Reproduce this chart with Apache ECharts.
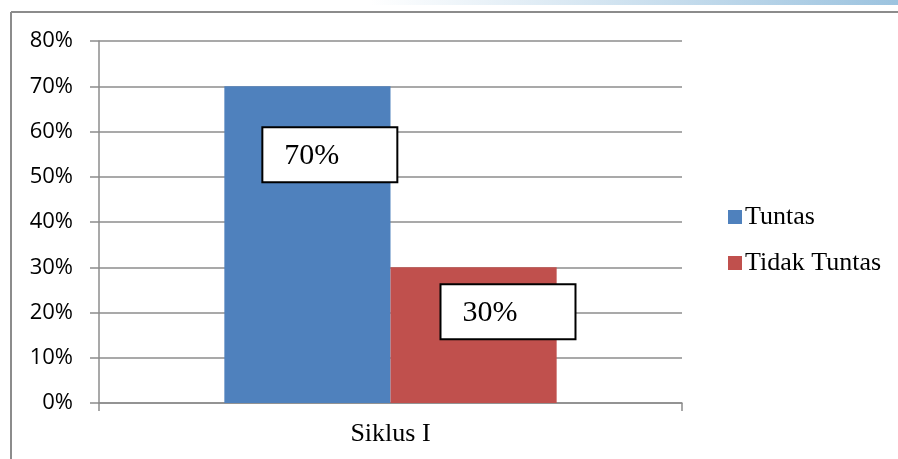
<!DOCTYPE html>
<html><head><meta charset="utf-8">
<script src="https://cdn.jsdelivr.net/npm/echarts@6/dist/echarts.min.js"></script>
<style>html,body{margin:0;padding:0;background:#fff}#c{width:898px;height:459px}</style>
</head><body><div id="c"></div>
<script>
const categories = ['Siklus I'];
const seriesNames = ['Tuntas', 'Tidak Tuntas'];
const tuntas = [70];
const tidakTuntas = [30];
const yMax = 80;
const yInterval = 10;

const chart = echarts.init(document.getElementById('c'), null, {renderer: 'canvas'});
const serif = '"Liberation Serif", "Times New Roman", serif';
const boxLabel = (pos) => ({
  show: true,
  position: pos,
  align: 'left',
  verticalAlign: 'top',
  formatter: '{c}%',
  fontFamily: serif,
  fontSize: 30,
  lineHeight: 30,
  color: '#000',
  backgroundColor: '#fff',
  borderColor: '#000',
  borderWidth: 2,
  padding: [13, 57, 10, 21]
});
chart.setOption({
  animation: false,
  graphic: [
    {type: 'rect', shape: {x: 370, y: 0, width: 528, height: 5}, style: {fill: new echarts.graphic.LinearGradient(0, 0, 1, 0, [{offset: 0, color: '#ffffff'}, {offset: 1, color: '#9cc3df'}])}, z: 0},
    {type: 'line', shape: {x1: 11, y1: 12, x2: 898, y2: 12}, style: {stroke: '#8c8c8c', lineWidth: 2}},
    {type: 'line', shape: {x1: 11, y1: 12, x2: 11, y2: 459}, style: {stroke: '#8c8c8c', lineWidth: 2}}
  ],
  grid: {left: 99, right: 216, top: 41, bottom: 56, containLabel: false},
  legend: {
    orient: 'vertical', left: 723, top: 199,
    data: seriesNames,
    icon: 'rect', itemWidth: 14, itemHeight: 14, itemGap: 20,
    textStyle: {fontFamily: serif, fontSize: 26, color: '#000', padding: [0,0,0,-2]}
  },
  xAxis: {
    type: 'category', data: categories, boundaryGap: true,
    axisLine: {lineStyle: {color: '#8c8c8c', width: 1.5}},
    axisTick: {show: true, length: 8, lineStyle: {color: '#8c8c8c', width: 1.5}},
    axisLabel: {fontFamily: serif, fontSize: 26, color: '#000', margin: 18}
  },
  yAxis: {
    type: 'value', min: 0, max: yMax, interval: yInterval,
    axisLine: {show: true, lineStyle: {color: '#8c8c8c', width: 1.5}},
    axisTick: {show: true, length: 9, lineStyle: {color: '#8c8c8c', width: 1.5}},
    axisLabel: {formatter: '{value}%', fontFamily: '"Open Sans", sans-serif', fontSize: 22, color: '#000', margin: 26},
    splitLine: {show: true, lineStyle: {color: '#8c8c8c', width: 1.5}}
  },
  series: [
    {name: seriesNames[0], type: 'bar', data: tuntas, barGap: '0%', barCategoryGap: '43%',
     itemStyle: {color: '#4f81bd'}, label: boxLabel([39, 42])},
    {name: seriesNames[1], type: 'bar', data: tidakTuntas, barGap: '0%', barCategoryGap: '43%',
     itemStyle: {color: '#c0504d'}, label: boxLabel([51, 18])}
  ]
});
</script></body></html>
